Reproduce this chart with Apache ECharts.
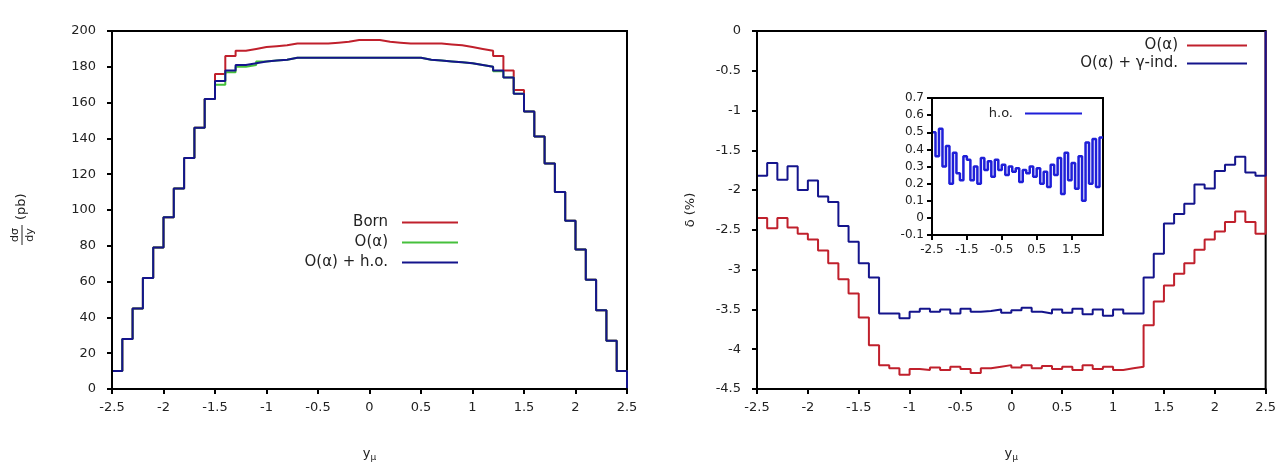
<!DOCTYPE html>
<html>
<head>
<meta charset="utf-8">
<script src="https://cdn.jsdelivr.net/npm/echarts@6/dist/echarts.min.js"></script>
<style>
  html, body { margin: 0; padding: 0; background: #fff; }
  #chart { width: 1279px; height: 467px; }
</style>
</head>
<body>
<div id="chart"></div>
<script>
// Lower edges of the 0.1-wide muon-rapidity bins
const binLow = [-2.5, -2.4, -2.3, -2.2, -2.1, -2.0, -1.9, -1.8, -1.7, -1.6,
                -1.5, -1.4, -1.3, -1.2, -1.1, -1.0, -0.9, -0.8, -0.7, -0.6,
                -0.5, -0.4, -0.3, -0.2, -0.1, 0.0, 0.1, 0.2, 0.3, 0.4,
                0.5, 0.6, 0.7, 0.8, 0.9, 1.0, 1.1, 1.2, 1.3, 1.4,
                1.5, 1.6, 1.7, 1.8, 1.9, 2.0, 2.1, 2.2, 2.3, 2.4];
const binTop = 2.5;

// dσ/dy in pb
const bornXsec = [10, 28, 45, 62, 79, 96, 112, 129, 146, 162,
                  176, 186, 189, 190, 191, 191.5, 192, 193, 193, 193,
                  193, 193.5, 194, 195, 195, 195, 194, 193.5, 193, 193,
                  193, 193, 192.5, 192, 191, 190, 189, 186, 178, 167,
                  155, 141, 126, 110, 94, 78, 61, 44, 27, 10];
const nloXsec = [10, 28, 45, 62, 79, 96, 112, 129, 146, 162,
                 170, 177, 180, 181, 183, 183.5, 184, 185, 185, 185,
                 185, 185, 185, 185, 185, 185, 185, 185, 185, 185,
                 184, 183.5, 183, 182.5, 182, 181, 180, 177.5, 174, 165,
                 155, 141, 126, 110, 94, 78, 61, 44, 27, 10];
const hoXsec = [10, 28, 45, 62, 79, 96, 112, 129, 146, 162,
                172, 178, 181, 182, 183, 183.5, 184, 185, 185, 185,
                185, 185, 185, 185, 185, 185, 185, 185, 185, 185,
                184, 183.5, 183, 182.5, 182, 181, 180, 178, 174, 165,
                155, 141, 126, 110, 94, 78, 61, 44, 27, 10];

// relative corrections δ in %
const deltaNlo = [-2.35, -2.48, -2.35, -2.47, -2.55, -2.62, -2.76, -2.92, -3.12, -3.3,
                  -3.6, -3.95, -4.2, -4.24, -4.32, -4.25, -4.26, -4.23, -4.26, -4.22,
                  -4.25, -4.3, -4.24, -4.22, -4.2, -4.23, -4.2, -4.24, -4.21, -4.25,
                  -4.22, -4.26, -4.2, -4.25, -4.22, -4.26, -4.24, -4.22, -3.7, -3.4,
                  -3.2, -3.05, -2.92, -2.75, -2.62, -2.52, -2.4, -2.27, -2.4, -2.55];
const deltaGamma = [-1.82, -1.66, -1.87, -1.70, -2.0, -1.88, -2.08, -2.15, -2.45, -2.65,
                    -2.92, -3.1, -3.55, -3.55, -3.61, -3.53, -3.49, -3.53, -3.5, -3.55,
                    -3.49, -3.53, -3.52, -3.5, -3.54, -3.51, -3.48, -3.53, -3.55, -3.5,
                    -3.54, -3.49, -3.56, -3.5, -3.58, -3.5, -3.55, -3.55, -3.1, -2.8,
                    -2.42, -2.3, -2.17, -1.93, -1.98, -1.76, -1.68, -1.58, -1.78, -1.82];

// higher-order correction δ in % (inset, up to y = 2.4)
const deltaHo = [0.50, 0.36, 0.52, 0.30, 0.42, 0.20, 0.38, 0.26, 0.22, 0.36,
                 0.34, 0.22, 0.30, 0.20, 0.35, 0.28, 0.33, 0.24, 0.34, 0.28,
                 0.31, 0.25, 0.30, 0.27, 0.29, 0.21, 0.28, 0.26, 0.30, 0.24,
                 0.29, 0.20, 0.27, 0.18, 0.31, 0.25, 0.35, 0.14, 0.38, 0.22,
                 0.32, 0.17, 0.36, 0.10, 0.44, 0.20, 0.46, 0.18, 0.47];
const insetTop = 2.4;
const insetTicks = [-2.5, -1.5, -0.5, 0.5, 1.5];

const legendText = {
  born: 'Born',
  nloL: 'O(α)',
  hoL: 'O(α) + h.o.',
  nloR: 'O(α)',
  gammaR: 'O(α) + γ-ind.',
  hoInset: 'h.o.'
};

// Histogram outline: each bin value held across its bin, dropping to base at the ends
function histSteps(edges, upper, values, base) {
  const pts = [];
  if (base !== null) pts.push([edges[0], base]);
  for (let i = 0; i < values.length; i++) pts.push([edges[i], values[i]]);
  pts.push([upper, base !== null ? base : values[values.length - 1]]);
  return pts;
}

const FONT = 'DejaVu Sans';
const TXT = '#222';

function xAxisCfg(grid, opts) {
  return Object.assign({
    gridIndex: grid, type: 'value', z: 3,
    axisLine: { show: true, onZero: false, lineStyle: { color: '#000', width: 2 } },
    axisTick: { show: true, inside: false, length: 5, lineStyle: { color: '#000', width: 2 } },
    axisLabel: { fontFamily: FONT, fontSize: 13, color: TXT, margin: 12 },
    splitLine: { show: false }
  }, opts);
}
function yAxisCfg(grid, opts) {
  return Object.assign({
    gridIndex: grid, type: 'value', z: 3,
    axisLine: { show: true, onZero: false, lineStyle: { color: '#000', width: 2 } },
    axisTick: { show: true, inside: false, length: 5, lineStyle: { color: '#000', width: 2 } },
    axisLabel: { fontFamily: FONT, fontSize: 13, color: TXT, margin: 16 },
    splitLine: { show: false }
  }, opts);
}
// One legend row: text on the left, a plain line sample on the right
function legendRow(name, right, rowY, itemWidth, gap, size) {
  return {
    data: [{ name: name, icon: 'rect' }], orient: 'horizontal', align: 'right',
    right: right, top: Math.round(rowY - size / 2),
    padding: 0, itemWidth: itemWidth, itemHeight: 2, selectedMode: false,
    formatter: n => legendText[n],
    textStyle: { fontFamily: FONT, fontSize: size, color: TXT, padding: [0, gap, 0, 0] }
  };
}
function stepSeries(name, x, y, data, color, z, width) {
  return {
    name: name, type: 'line', xAxisIndex: x, yAxisIndex: y, data: data,
    step: 'end', symbol: 'none', showSymbol: false, z: z,
    lineStyle: { color: color, width: width || 2 }, itemStyle: { color: color },
    emphasis: { disabled: true }
  };
}

const RED = '#c0202c', GREEN = '#46c03c', NAVY = '#14148c', BLUE = '#1f1fd8';
const xName = {
  name: 'y{s|μ}', nameLocation: 'middle', nameGap: 57,
  nameTextStyle: { fontFamily: FONT, fontSize: 13, color: TXT,
    rich: { s: { fontFamily: FONT, fontSize: 9, color: TXT, padding: [7, 0, 0, 0] } } }
};

const chart = echarts.init(document.getElementById('chart'), null, { renderer: 'canvas' });
chart.setOption({
  animation: false,
  backgroundColor: '#fff',
  grid: [
    { left: 112, right: 652, top: 31, bottom: 71, show: true, borderColor: '#000', borderWidth: 2 },
    { left: 757, right: 11, top: 31, bottom: 72, show: true, borderColor: '#000', borderWidth: 2 },
    { left: 932, right: 176, top: 98, bottom: 232, show: true, borderColor: '#000', borderWidth: 2, backgroundColor: '#fff', z: 5 }
  ],
  xAxis: [
    xAxisCfg(0, Object.assign({ min: -2.5, max: 2.5, interval: 0.5 }, xName)),
    xAxisCfg(1, Object.assign({ min: -2.5, max: 2.5, interval: 0.5 }, xName)),
    xAxisCfg(2, {
      min: -2.5, max: insetTop, z: 8,
      axisTick: { show: true, inside: false, length: 5, customValues: insetTicks, lineStyle: { color: '#000', width: 2 } },
      axisLabel: { fontFamily: FONT, fontSize: 12, color: TXT, margin: 9, customValues: insetTicks }
    })
  ],
  yAxis: [
    yAxisCfg(0, { min: 0, max: 200, interval: 20 }),
    yAxisCfg(1, { min: -4.5, max: 0, interval: 0.5, name: 'δ (%)', nameLocation: 'middle', nameGap: 60,
      nameTextStyle: { fontFamily: FONT, fontSize: 13, color: TXT } }),
    yAxisCfg(2, { min: -0.1, max: 0.7, interval: 0.1, z: 8,
      axisLabel: { fontFamily: FONT, fontSize: 12, color: TXT, margin: 8 } })
  ],
  legend: [
    legendRow('born', 821, 222, 56, 9, 15),
    legendRow('nloL', 821, 242, 56, 9, 15),
    legendRow('hoL', 821, 262, 56, 9, 15),
    legendRow('nloR', 32, 45, 60, 4, 15),
    legendRow('gammaR', 32, 63, 60, 4, 15),
    Object.assign(legendRow('hoInset', 197, 113, 57, 7, 13), { z: 9 })
  ],
  series: [
    stepSeries('born', 0, 0, histSteps(binLow, binTop, bornXsec, 0), RED, 2),
    stepSeries('nloL', 0, 0, histSteps(binLow, binTop, nloXsec, 0), GREEN, 2),
    stepSeries('hoL', 0, 0, histSteps(binLow, binTop, hoXsec, 0), NAVY, 2),
    stepSeries('nloR', 1, 1, histSteps(binLow, binTop, deltaNlo, 0), RED, 2),
    stepSeries('gammaR', 1, 1, histSteps(binLow, binTop, deltaGamma, 0), NAVY, 2),
    stepSeries('hoInset', 2, 2, histSteps(binLow, insetTop, deltaHo, null), BLUE, 7, 2.5)
  ],
  graphic: [{
    type: 'group', x: 22, y: 214, rotation: Math.PI / 2,
    children: [
      { type: 'text', x: -21, y: -7, style: { text: 'dσ', font: '11px "DejaVu Sans"', fill: TXT, align: 'center', verticalAlign: 'middle' } },
      { type: 'line', shape: { x1: -31, y1: 0, x2: -11, y2: 0 }, style: { stroke: TXT, lineWidth: 1 } },
      { type: 'text', x: -21, y: 8, style: { text: 'dy', font: '11px "DejaVu Sans"', fill: TXT, align: 'center', verticalAlign: 'middle' } },
      { type: 'text', x: -6, y: 0, style: { text: '(pb)', font: '13px "DejaVu Sans"', fill: TXT, align: 'left', verticalAlign: 'middle' } }
    ]
  }]
});
</script>
</body>
</html>
